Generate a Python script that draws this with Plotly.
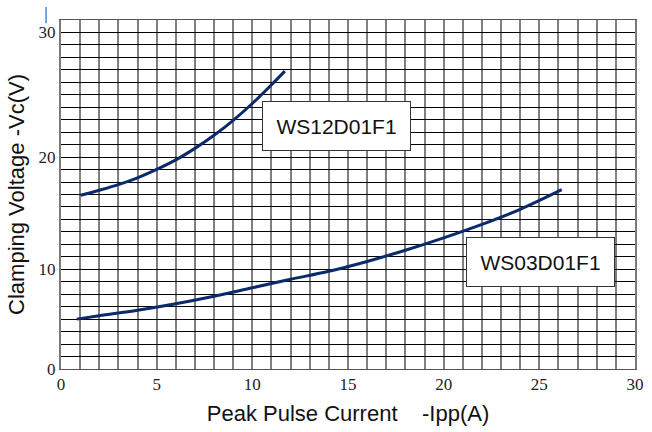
import numpy as np
import plotly.graph_objects as go

# Axis labelling of the printed grid: voltage labels sit on these grid rows
y_tick_labels = [0, 10, 20, 30]
y_tick_rows = [0, 8, 17, 27]
x_tick_vals = [0, 5, 10, 15, 20, 25, 30]

# WS12D01F1 : current (A) -> clamping voltage (V)
ws12_ipp = [1.03, 2.0, 3.0, 4.0, 5.0, 6.0, 7.0, 8.0, 9.0, 10.0, 11.0, 11.7]
ws12_vc = [16.6, 17.05, 17.55, 18.15, 18.9, 19.75, 20.7, 21.75, 22.95, 24.3, 25.8, 26.9]

# WS03D01F1
ws03_ipp = [0.82, 2.0, 4.0, 6.0, 8.0, 10.0, 12.0, 14.0, 16.0, 18.0, 20.0, 22.0, 24.0, 26.17]
ws03_vc = [5.0, 5.35, 5.9, 6.55, 7.3, 8.15, 9.0, 9.8, 10.7, 11.7, 12.8, 14.0, 15.35, 17.1]


def to_rows(v):
    return np.interp(v, y_tick_labels, y_tick_rows)


line_col = "#0b2a6b"
fig = go.Figure()
fig.add_trace(go.Scatter(x=ws12_ipp, y=to_rows(ws12_vc), mode="lines",
                         line=dict(color=line_col, width=3, shape="spline", smoothing=1.0),
                         name="WS12D01F1", hoverinfo="skip"))
fig.add_trace(go.Scatter(x=ws03_ipp, y=to_rows(ws03_vc), mode="lines",
                         line=dict(color=line_col, width=3, shape="spline", smoothing=1.0),
                         name="WS03D01F1", hoverinfo="skip"))

box = dict(showarrow=False, bgcolor="white", bordercolor="#333333", borderwidth=1,
           font=dict(family="Liberation Sans, Arial, sans-serif", size=21, color="#111111"),
           width=145, height=46, xref="x", yref="y")
fig.add_annotation(text="WS12D01F1", x=14.4, y=19.5, **box)
fig.add_annotation(text="WS03D01F1", x=25.04, y=8.59, **box)

# small blue mark at top-left of the original image
fig.add_shape(type="line", xref="paper", yref="paper", x0=-0.026, x1=-0.026,
              y0=0.991, y1=1.037, line=dict(color="#4a86d8", width=1.5))

fig.update_layout(
    width=652, height=432,
    margin=dict(l=61, r=17, t=20, b=63),
    paper_bgcolor="white", plot_bgcolor="white",
    showlegend=False,
    xaxis=dict(range=[0, 30], tickmode="array", tickvals=x_tick_vals,
               ticktext=[str(v) for v in x_tick_vals], automargin=False,
               showgrid=False, zeroline=False, ticks="",
               minor=dict(dtick=1, tick0=0, showgrid=True, gridcolor="#808080", gridwidth=2),
               showline=True, linecolor="#555555", linewidth=1, mirror=True,
               tickfont=dict(family="Liberation Serif, Times New Roman, serif", size=17, color="#222222"),
               title=dict(text="Peak Pulse Current\u00a0\u00a0\u00a0\u00a0-Ipp(A)",
                          font=dict(family="Liberation Sans, Arial, sans-serif", size=22, color="#111111"),
                          standoff=12)),
    yaxis=dict(range=[0, 28], tickmode="array", tickvals=y_tick_rows,
               ticktext=[str(v) for v in y_tick_labels], automargin=False,
               showgrid=False, zeroline=False, ticks="",
               minor=dict(dtick=1, tick0=0, showgrid=True, gridcolor="#000000", gridwidth=1),
               showline=True, linecolor="#7a7a7a", linewidth=2, mirror=True,
               tickfont=dict(family="Liberation Serif, Times New Roman, serif", size=17, color="#222222"),
               title=dict(text="Clamping Voltage -Vc(V)",
                          font=dict(family="Liberation Sans, Arial, sans-serif", size=22, color="#111111"),
                          standoff=8)),
)

fig.write_html("out.html", config={"displayModeBar": False},
               post_script="document.body.style.margin='0';document.body.style.padding='0';")
